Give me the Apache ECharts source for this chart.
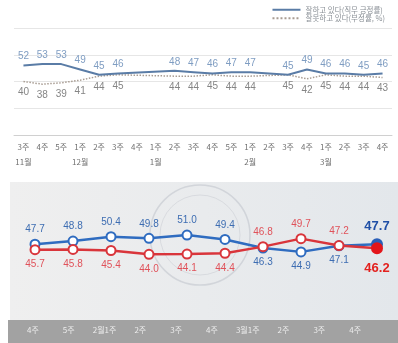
<!DOCTYPE html>
<html>
<head>
<meta charset="utf-8">
<script src="https://cdn.jsdelivr.net/npm/echarts@6/dist/echarts.min.js"></script>
<style>
  html, body { margin: 0; padding: 0; background: #fff; }
  #chart { width: 398px; height: 343px; }
</style>
</head>
<body>
<div id="chart"></div>
<script>
// Weekly approval trend (upper panel)
const weekLabels = ['3주','4주','5주','1주','2주','3주','4주','1주','2주','3주','4주','5주','1주','2주','3주','4주','1주','2주','3주','4주'];
const monthLabels = ['11월','','','12월','','','','1월','','','','','2월','','','','3월','','',''];
const approveTrend = [52,53,53,49,45,46,null,null,48,47,46,47,47,null,45,49,46,46,45,46];
const disapproveTrend = [40,38,39,41,44,45,null,null,44,44,45,44,44,null,45,42,45,44,44,43];

// Recent weeks (lower panel)
const recentWeeks = ['4주','5주','2월1주','2주','3주','4주','3월1주','2주','3주','4주'];
const approveRecent = [47.7,48.8,50.4,49.8,51.0,49.4,46.3,44.9,47.1,47.7];
const disapproveRecent = [45.7,45.8,45.4,44.0,44.1,44.4,46.8,49.7,47.2,46.2];

const numFont = "'Liberation Sans Narrow','Liberation Sans',sans-serif";
const krFont = "'Noto Sans CJK KR',sans-serif";

const BLUE = '#2f6cc0', RED = '#d9353b';
const CLEAR = 'rgba(0,0,0,0)';

function recentData(values, other, color, boldColor) {
  return values.map((v, i) => {
    const above = v >= other[i];
    const last = i === values.length - 1;
    const item = {
      value: v,
      label: {
        position: above ? 'top' : 'bottom',
        distance: last ? (above ? 5 : 8) : 4
      }
    };
    if (last) {
      item.symbolSize = 10;
      item.itemStyle = { color: color, borderColor: color };
      item.label.fontSize = 13;
      item.label.fontWeight = 'bold';
      item.label.color = boldColor;
    }
    return item;
  });
}

const chart = echarts.init(document.getElementById('chart'), null, { renderer: 'canvas' });

chart.setOption({
  animation: false,
  backgroundColor: '#ffffff',
  graphic: [
    {
      type: 'rect', z: -10, silent: true,
      shape: { x: 10, y: 182, width: 388, height: 138 },
      style: {
        fill: new echarts.graphic.LinearGradient(0, 0, 1, 0, [
          { offset: 0, color: '#efefef' },
          { offset: 1, color: '#e3e7eb' }
        ])
      }
    },
    {
      type: 'circle', z: -9, silent: true,
      shape: { cx: 200, cy: 235, r: 50 },
      style: { fill: 'none', stroke: 'rgba(175,180,190,0.4)', lineWidth: 1.5 }
    },
    {
      type: 'circle', z: -9, silent: true,
      shape: { cx: 200, cy: 235, r: 40 },
      style: { fill: 'none', stroke: 'rgba(175,180,190,0.3)', lineWidth: 1 }
    },
    {
      type: 'rect', z: -8, silent: true,
      shape: { x: 8, y: 320, width: 390, height: 23 },
      style: { fill: '#a2a2a2' }
    }
  ],
  legend: {
    orient: 'vertical',
    right: 8,
    top: 1,
    itemWidth: 28,
    itemHeight: 6,
    itemGap: 1,
    itemStyle: { opacity: 0 },
    textStyle: { fontFamily: krFont, fontSize: 7.5, color: '#8a9096' },
    data: ['잘하고 있다(직무 긍정률)', '잘못하고 있다(부정률, %)']
  },
  grid: [
    { left: 14, right: 6, top: 28, height: 107 },
    { left: 16, right: 2, top: 224, height: 41.4 },
    { left: 15, right: 25, top: 320, height: 23 }
  ],
  xAxis: [
    {
      gridIndex: 0,
      type: 'category',
      data: weekLabels,
      boundaryGap: true,
      axisLine: { lineStyle: { color: '#d0d0d0' } },
      axisTick: { lineStyle: { color: '#d0d0d0' }, length: 3 },
      axisLabel: {
        interval: 0,
        margin: 4,
        fontFamily: krFont,
        fontSize: 8,
        lineHeight: 15,
        color: '#707070',
        formatter: (val, idx) => monthLabels[idx] ? val + '\n' + monthLabels[idx] : val + '\n '
      }
    },
    {
      gridIndex: 1,
      type: 'category',
      data: recentWeeks,
      boundaryGap: true,
      show: false
    },
    {
      gridIndex: 2,
      type: 'category',
      data: recentWeeks,
      boundaryGap: true,
      position: 'top',
      axisLine: { show: false },
      axisTick: { show: false },
      axisLabel: {
        inside: true,
        interval: 0,
        margin: 6,
        fontFamily: krFont,
        fontSize: 8,
        color: '#ececec'
      }
    }
  ],
  yAxis: [
    {
      gridIndex: 0,
      type: 'value',
      min: 0, max: 80, interval: 20,
      axisLine: { show: false },
      axisTick: { show: false },
      axisLabel: { show: false },
      splitLine: { lineStyle: { color: '#e6e6e6' } }
    },
    {
      gridIndex: 1,
      type: 'value',
      min: 40, max: 55,
      show: false,
      splitLine: { show: false }
    },
    {
      gridIndex: 2,
      type: 'value',
      show: false,
      splitLine: { show: false }
    }
  ],
  series: [
    {
      name: '잘하고 있다(직무 긍정률)',
      type: 'line',
      xAxisIndex: 0, yAxisIndex: 0,
      data: approveTrend,
      connectNulls: true,
      showSymbol: true,
      symbol: 'circle',
      symbolSize: 2,
      lineStyle: { color: '#5a7ca6', width: 2 },
      itemStyle: { color: CLEAR, borderWidth: 0 },
      label: {
        show: true,
        position: 'top',
        distance: 3,
        fontFamily: numFont,
        fontSize: 10,
        color: '#7f9dc2'
      },
      z: 3
    },
    {
      name: '잘못하고 있다(부정률, %)',
      type: 'line',
      xAxisIndex: 0, yAxisIndex: 0,
      data: disapproveTrend,
      connectNulls: true,
      showSymbol: true,
      symbol: 'circle',
      symbolSize: 2,
      lineStyle: { color: '#a89c92', width: 1.5, type: 'dotted' },
      itemStyle: { color: CLEAR, borderWidth: 0 },
      label: {
        show: true,
        position: 'bottom',
        distance: 5,
        fontFamily: numFont,
        fontSize: 10,
        color: '#858585'
      },
      z: 2
    },
    {
      name: 'approveRecent',
      type: 'line',
      xAxisIndex: 1, yAxisIndex: 1,
      data: recentData(approveRecent, disapproveRecent, '#2a5fb8', '#1f4fa6'),
      symbol: 'circle',
      symbolSize: 9,
      lineStyle: { color: BLUE, width: 2.5 },
      itemStyle: { color: '#ffffff', borderColor: BLUE, borderWidth: 2 },
      label: {
        show: true,
        fontFamily: numFont,
        fontSize: 10,
        color: '#3d6db2',
        formatter: p => p.value.toFixed(1)
      },
      z: 4
    },
    {
      name: 'disapproveRecent',
      type: 'line',
      xAxisIndex: 1, yAxisIndex: 1,
      data: recentData(disapproveRecent, approveRecent, '#e3161b', '#e3221f'),
      symbol: 'circle',
      symbolSize: 9,
      lineStyle: { color: RED, width: 2.5 },
      itemStyle: { color: '#ffffff', borderColor: RED, borderWidth: 2 },
      label: {
        show: true,
        fontFamily: numFont,
        fontSize: 10,
        color: '#e0525a',
        formatter: p => p.value.toFixed(1)
      },
      z: 5
    }
  ]
});
</script>
</body>
</html>
